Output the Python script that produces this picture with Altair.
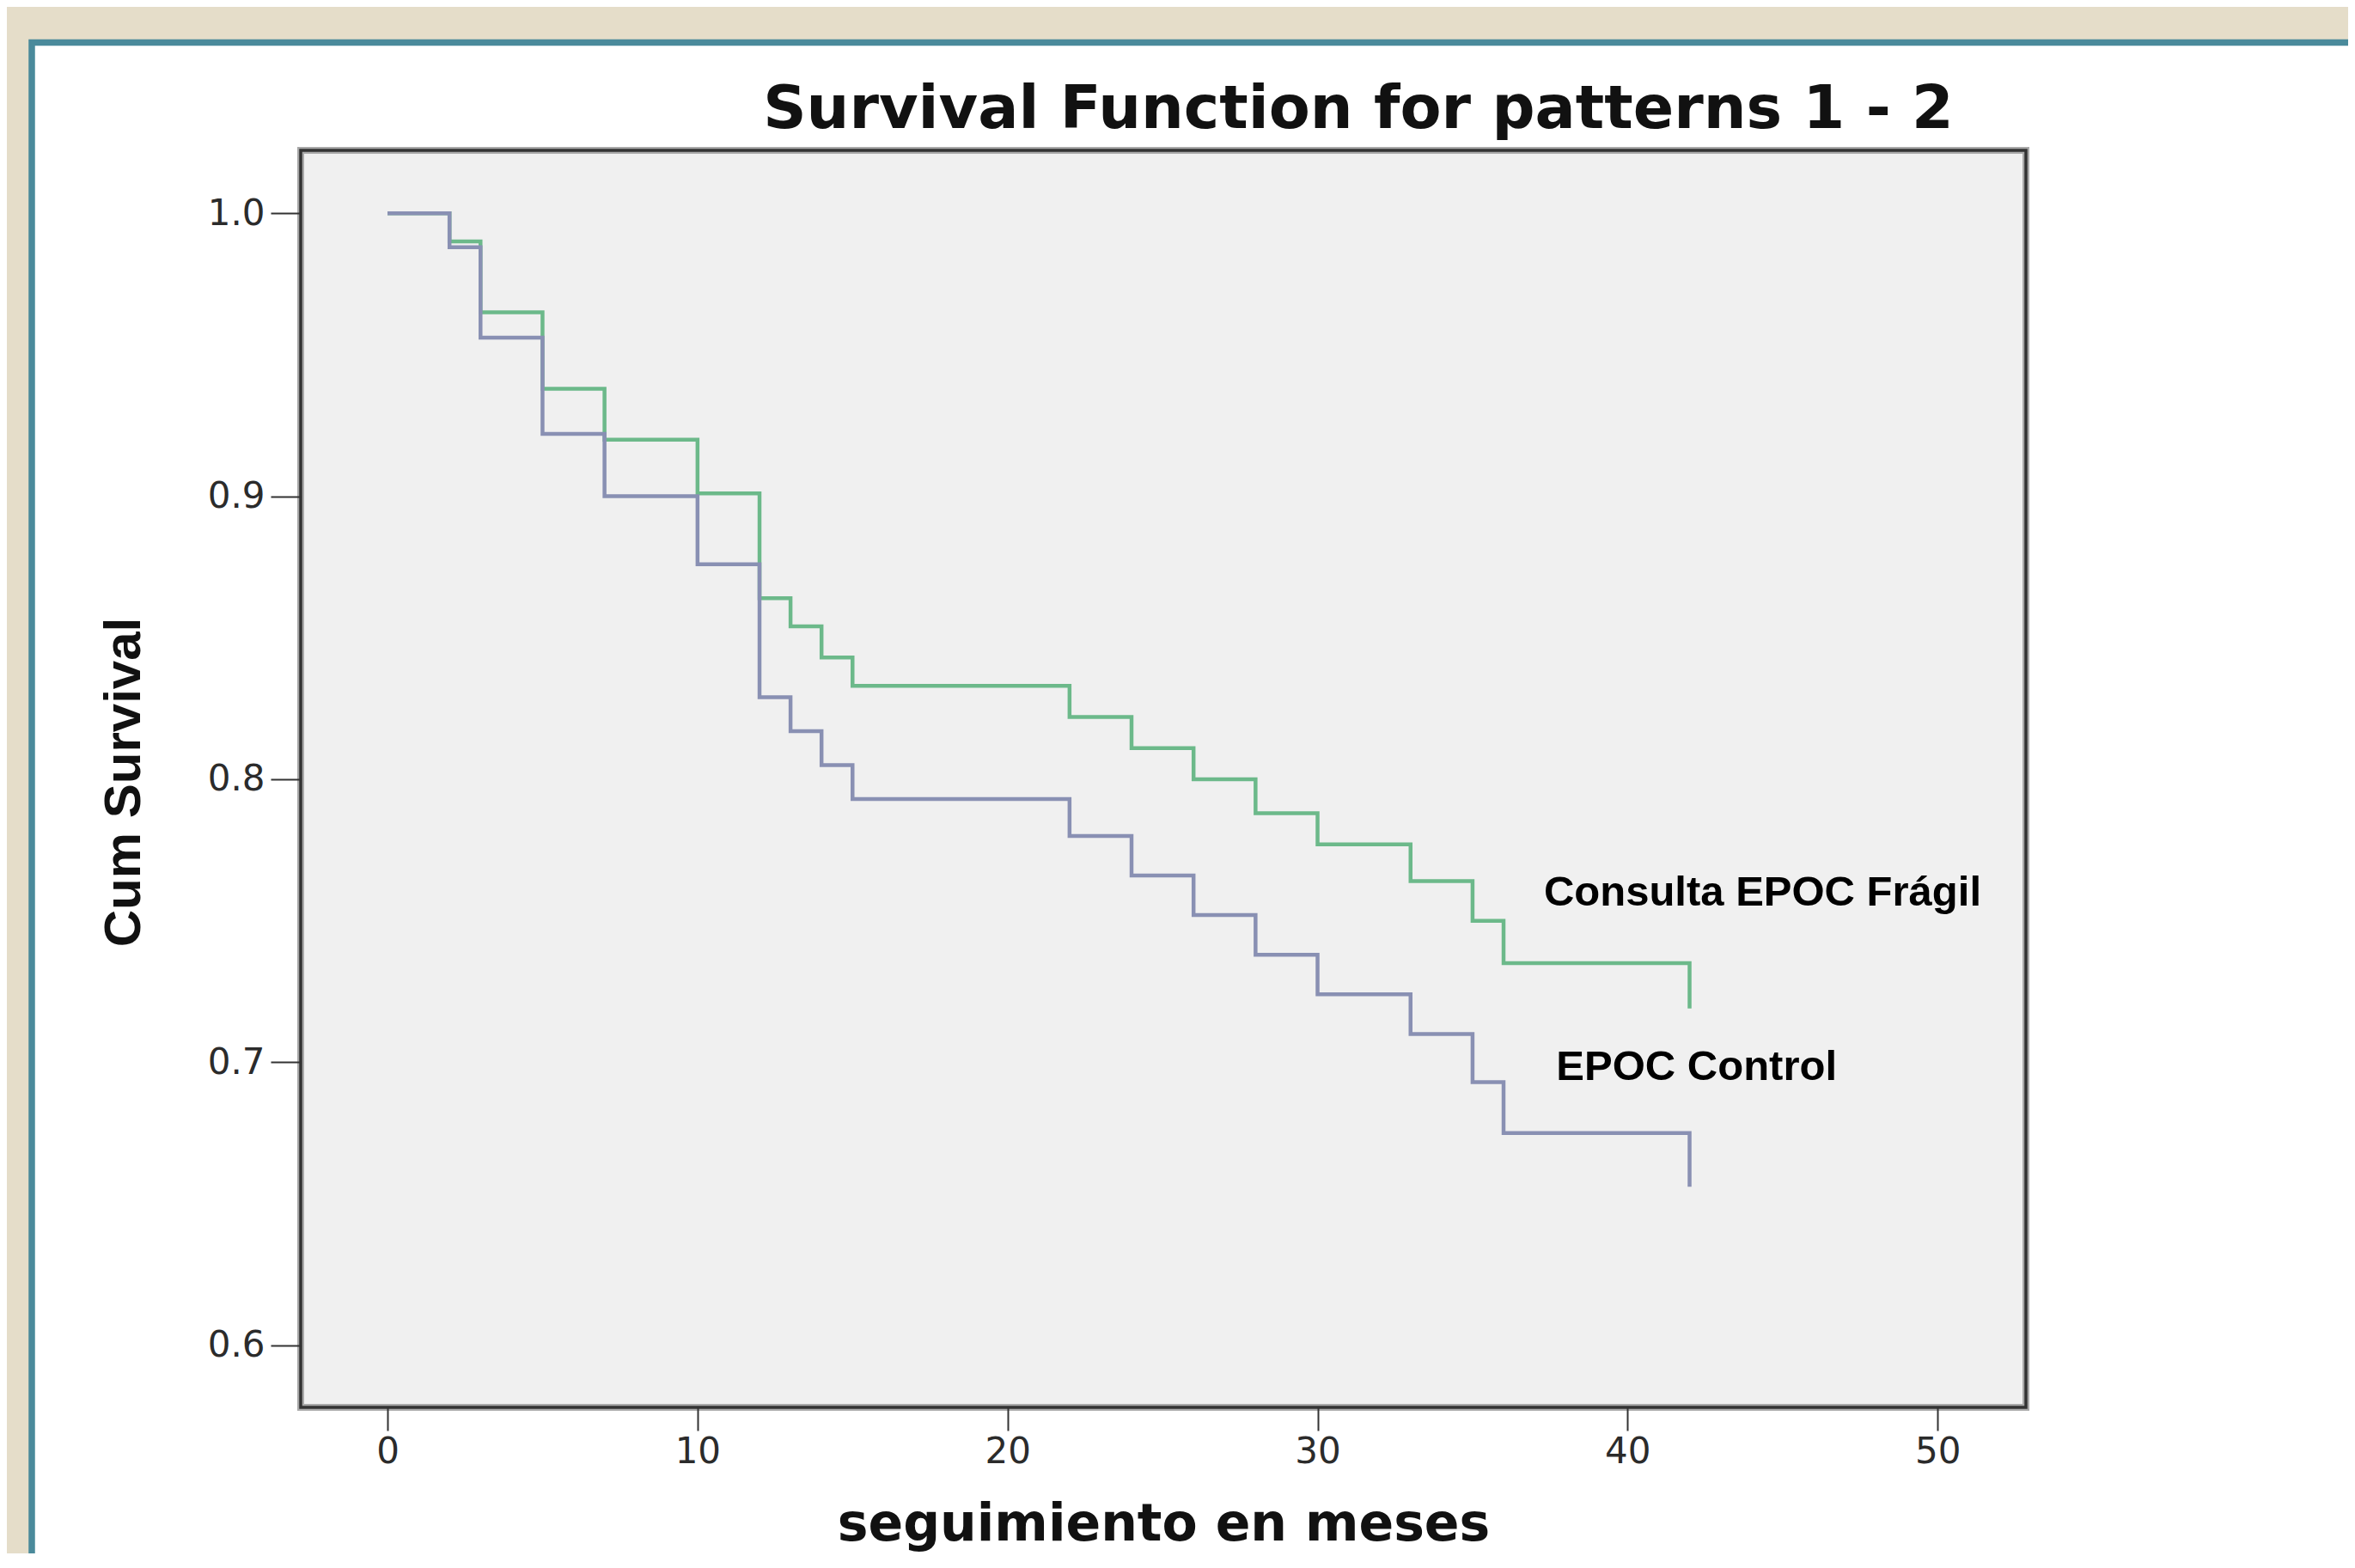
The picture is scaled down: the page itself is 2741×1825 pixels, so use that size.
import altair as alt
import pandas as pd

# ---------------- data ----------------
groups = ["Consulta EPOC Frágil", "EPOC Control"]

times_fragil = [0, 2, 3, 5, 7, 10, 12, 13, 14, 15, 22, 24, 26, 28, 30, 33, 35, 36, 42]
surv_fragil = [1.0, 0.990, 0.965, 0.938, 0.920, 0.901, 0.864, 0.854, 0.843, 0.833,
               0.822, 0.811, 0.800, 0.788, 0.777, 0.764, 0.750, 0.735, 0.719]

times_control = [0, 2, 3, 5, 7, 10, 12, 13, 14, 15, 22, 24, 26, 28, 30, 33, 35, 36, 42]
surv_control = [1.0, 0.988, 0.956, 0.922, 0.900, 0.876, 0.829, 0.817, 0.805, 0.793,
                0.780, 0.766, 0.752, 0.738, 0.724, 0.710, 0.693, 0.675, 0.656]

label_x = [37.3, 37.7]
label_y = [0.7553, 0.6937]

x_ticks = [0, 10, 20, 30, 40, 50]
y_ticks = [0.6, 0.7, 0.8, 0.9, 1.0]

title_text = "Survival Function for patterns 1 - 2"
x_title = "seguimiento en meses"
y_title = "Cum Survival"

colors = ["#6cb98a", "#8990b3"]

# ---------------- tables ----------------
curves = pd.concat([
    pd.DataFrame({"t": times_fragil, "s": surv_fragil, "grupo": groups[0]}),
    pd.DataFrame({"t": times_control, "s": surv_control, "grupo": groups[1]}),
], ignore_index=True)

labels = pd.DataFrame({"t": label_x, "s": label_y, "grupo": groups})

W, H = 2008, 1463

x_enc = alt.X(
    "t:Q",
    scale=alt.Scale(domain=[-2.8, 52.85], nice=False, zero=False),
    axis=alt.Axis(
        values=x_ticks, format="d", title=x_title, grid=False, domain=False,
        tickSize=27, tickWidth=2, tickColor="#333333",
        labelFont="DejaVu Sans", labelFontSize=42, labelColor="#2b2b2b",
        labelPadding=4, labelFlush=False, labelOverlap=False,
        titleFont="DejaVu Sans", titleFontWeight="bold", titleFontSize=60,
        titleColor="#111111", titleX=W / 2, titleY=136,
        titleBaseline="middle", titleAlign="center", zindex=1,
    ),
)
y_enc = alt.Y(
    "s:Q",
    scale=alt.Scale(domain=[0.5781, 1.0222], nice=False, zero=False),
    axis=alt.Axis(
        values=y_ticks, format=".1f", title=y_title, grid=False, domain=False,
        tickSize=35, tickWidth=2, tickColor="#333333",
        labelFont="DejaVu Sans", labelFontSize=42, labelColor="#2b2b2b",
        labelPadding=7, labelFlush=False, labelOverlap=False,
        titleFont="Liberation Sans", titleFontWeight="bold",
        titleFontSize=60, titleColor="#111111", titleAngle=270,
        titleX=-206, titleY=735, titleBaseline="middle", titleAlign="center",
        zindex=1,
    ),
)

one = pd.DataFrame({"k": [0]})

panel = alt.Chart(one).mark_rect(fill="white", stroke="#4a8a9b", strokeWidth=7.5).encode(
    x=alt.value(-313), x2=alt.value(2700), y=alt.value(-125.5), y2=alt.value(1900)
)
plot_bg = alt.Chart(one).mark_rect(fill="#f0f0f0", stroke="#a9a9a9", strokeWidth=8).encode(
    x=alt.value(0), x2=alt.value(W), y=alt.value(0), y2=alt.value(H)
)
frame = alt.Chart(one).mark_rect(fillOpacity=0, stroke="#333333", strokeWidth=3.5).encode(
    x=alt.value(0), x2=alt.value(W), y=alt.value(0), y2=alt.value(H)
)

lines = alt.Chart(curves).mark_line(interpolate="step-after", strokeWidth=4.5).encode(
    x=x_enc,
    y=y_enc,
    color=alt.Color("grupo:N", scale=alt.Scale(domain=groups, range=colors), legend=None),
    order=alt.Order("t:Q"),
)

texts = alt.Chart(labels).mark_text(
    font="Liberation Sans", fontWeight="bold", fontSize=49, align="left",
    baseline="alphabetic", color="#000000",
).encode(x="t:Q", y="s:Q", text="grupo:N")

title = alt.Chart(pd.DataFrame({"txt": [title_text]})).mark_text(
    font="DejaVu Sans", fontWeight="bold", fontSize=70, align="center",
    baseline="alphabetic", color="#111111",
).encode(x=alt.value(1231), y=alt.value(-26), text="txt:N")

chart = alt.layer(panel, plot_bg, frame, lines, texts, title).properties(
    width=W, height=H,
    autosize=alt.AutoSizeParams(type="none"),
    padding={"left": 342, "top": 167, "right": 375, "bottom": 170},
).configure(background="#e5ddc9").configure_view(stroke=None)

chart.save("out.html", embed_options={"renderer": "svg", "actions": False})
